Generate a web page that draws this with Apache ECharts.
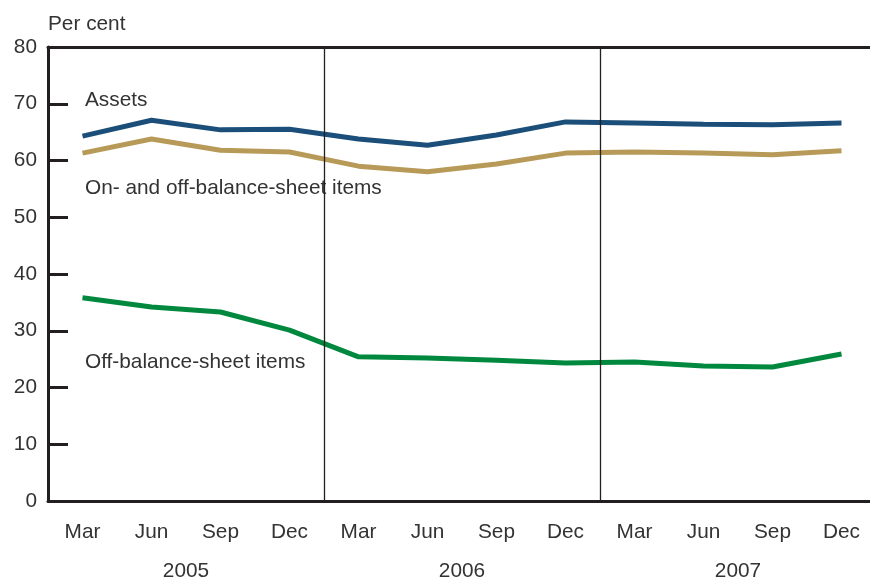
<!DOCTYPE html>
<html>
<head>
<meta charset="utf-8">
<script src="https://cdn.jsdelivr.net/npm/echarts@6/dist/echarts.min.js"></script>
<style>
  html, body { margin: 0; padding: 0; background: #fff; }
  #chart { width: 870px; height: 577px; }
</style>
</head>
<body>
<div id="chart"></div>
<script>
var quarters = ['Mar', 'Jun', 'Sep', 'Dec', 'Mar', 'Jun', 'Sep', 'Dec', 'Mar', 'Jun', 'Sep', 'Dec']
var years = ['2005', '2006', '2007']
var assets = [64.3, 67.1, 65.4, 65.5, 63.8, 62.7, 64.5, 66.8, 66.6, 66.4, 66.3, 66.6]
var onOffItems = [61.3, 63.8, 61.8, 61.5, 59.0, 58.0, 59.4, 61.3, 61.5, 61.3, 61.0, 61.7]
var offItems = [35.8, 34.2, 33.3, 30.1, 25.4, 25.2, 24.8, 24.3, 24.5, 23.8, 23.6, 25.9]
var yearBreaks = [4, 8]

var font = 'Liberation Sans'
var textColor = '#333'
var axisColor = '#231f20'
var fs = 20.8

var myChart = echarts.init(document.getElementById('chart'))
var option = {
  animation: false,
  textStyle: { fontFamily: font },
  grid: { left: 48, right: -6, top: 47, bottom: 76, containLabel: false, outerBoundsMode: 'none' },
  xAxis: [
    {
      type: 'category',
      data: quarters,
      boundaryGap: true,
      axisLine: { lineStyle: { color: axisColor, width: 3 } },
      axisTick: { inside: true, length: 10, interval: 0, lineStyle: { color: axisColor, width: 3 } },
      axisLabel: { color: textColor, fontSize: fs, margin: 21 }
    },
    {
      // top border + year separators
      type: 'value',
      min: 0,
      max: 12,
      position: 'top',
      axisLine: { show: true, onZero: false, lineStyle: { color: axisColor, width: 3 } },
      axisTick: { show: false },
      axisLabel: { show: false },
      splitLine: { show: false }
    },
    {
      type: 'category',
      data: years,
      position: 'bottom',
      offset: 40,
      axisLine: { show: false },
      axisTick: { show: false },
      axisLabel: { color: textColor, fontSize: fs, margin: 20 }
    }
  ],
  yAxis: {
    type: 'value',
    min: 0,
    max: 80,
    interval: 10,
    name: 'Per cent',
    nameLocation: 'end',
    nameGap: 12,
    nameTextStyle: { color: textColor, fontSize: fs, align: 'left' },
    axisLine: { show: true, lineStyle: { color: axisColor, width: 3 } },
    axisTick: { show: true, inside: true, length: 20, lineStyle: { color: axisColor, width: 3 } },
    axisLabel: { color: textColor, fontSize: fs, margin: 11 },
    splitLine: { show: false }
  },
  series: [
    {
      name: 'Assets',
      type: 'line',
      data: assets,
      symbol: 'none',
      lineStyle: { color: '#1b4f7a', width: 5 },
      itemStyle: { color: '#1b4f7a' }
    },
    {
      name: 'On- and off-balance-sheet items',
      type: 'line',
      data: onOffItems,
      symbol: 'none',
      lineStyle: { color: '#b89a58', width: 5 },
      itemStyle: { color: '#b89a58' }
    },
    {
      name: 'Off-balance-sheet items',
      type: 'line',
      data: offItems,
      symbol: 'none',
      lineStyle: { color: '#00893e', width: 5 },
      itemStyle: { color: '#00893e' }
    },
    {
      name: 'breaks',
      type: 'line',
      xAxisIndex: 1,
      data: [],
      markLine: {
        silent: true,
        symbol: 'none',
        label: { show: false },
        lineStyle: { color: axisColor, width: 1.3, type: 'solid' },
        data: yearBreaks.map(function (v) { return { xAxis: v } })
      }
    }
  ],
  graphic: [
    { type: 'text', left: 85, top: 90, style: { text: 'Assets', fill: textColor, font: fs + 'px ' + font } },
    { type: 'text', left: 85, top: 178, style: { text: 'On- and off-balance-sheet items', fill: textColor, font: fs + 'px ' + font } },
    { type: 'text', left: 85, top: 352, style: { text: 'Off-balance-sheet items', fill: textColor, font: fs + 'px ' + font } }
  ]
}
myChart.setOption(option)
</script>
</body>
</html>
